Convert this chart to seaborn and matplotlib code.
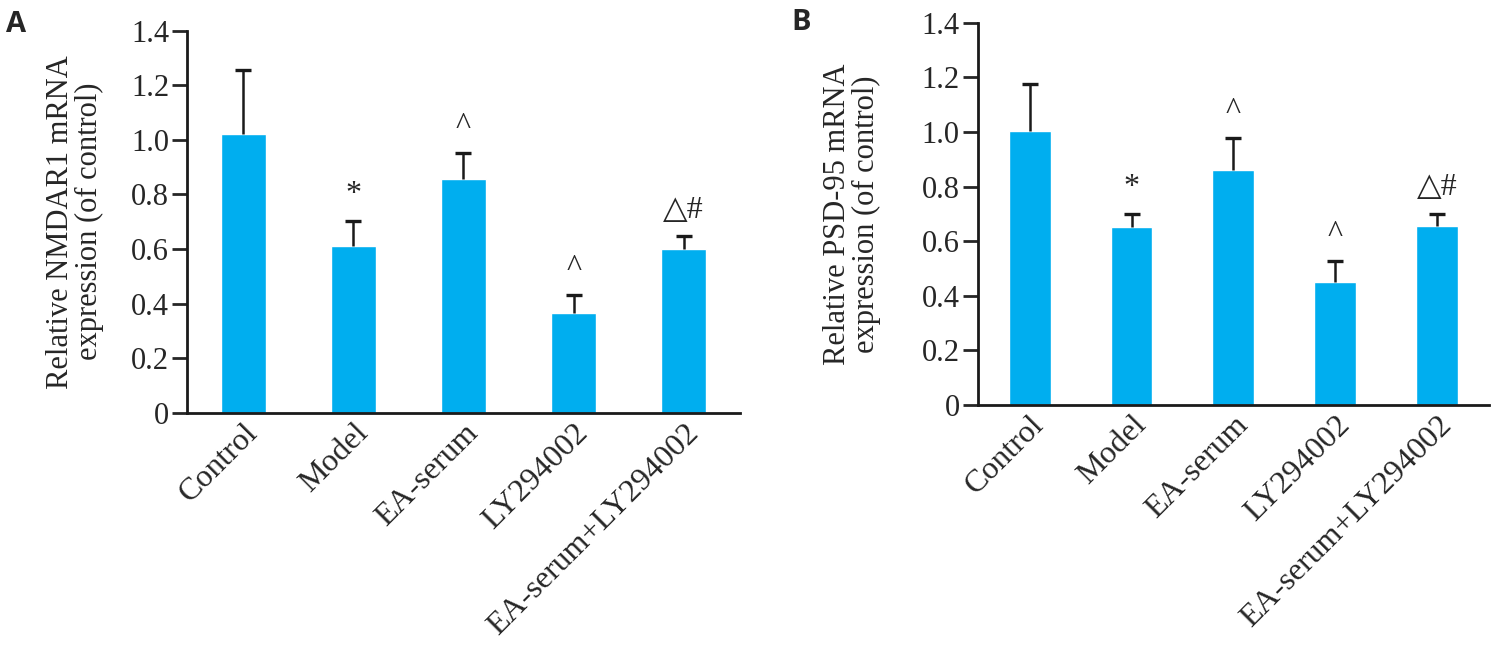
import numpy as np
import pandas as pd
import matplotlib
matplotlib.use('Agg')
import matplotlib.pyplot as plt
import seaborn as sns

### ------------------- data ----------------------
groups = ['Control', 'Model', 'EA-serum', 'LY294002', 'EA-serum+LY294002']
nmdar1_mean = [1.02, 0.61, 0.855, 0.365, 0.60]
nmdar1_sd = [0.237, 0.092, 0.097, 0.067, 0.046]
psd95_mean = [1.005, 0.65, 0.86, 0.45, 0.655]
psd95_sd = [0.17, 0.048, 0.118, 0.077, 0.043]
sig_marks = ['', '*', '^', '^', '△#']
yticks = [0, 0.2, 0.4, 0.6, 0.8, 1.0, 1.2, 1.4]
ytick_labels = ['0', '0.2', '0.4', '0.6', '0.8', '1.0', '1.2', '1.4']

sns.set_style('ticks')
plt.rcParams['font.family'] = ['Liberation Serif', 'DejaVu Serif']

bar_color = '#00AEEF'

fig = plt.figure(figsize=(15.11, 6.48), dpi=100)

def draw_panel(rect, means, sds, ylabel, letter, letter_xy, label_x):
    ax = fig.add_axes(rect)
    df = pd.DataFrame({'group': groups, 'value': means})
    sns.barplot(data=df, x='group', y='value', color=bar_color, saturation=1,
                width=0.41, errorbar=None, ax=ax)
    # upper error bars only
    _, caps, _ = ax.errorbar(np.arange(len(groups)), means,
                             yerr=[np.zeros(len(sds)), sds],
                             fmt='none', ecolor='#1a1a1a', elinewidth=1.8,
                             capsize=5.5, capthick=2.4, zorder=3)
    caps[0].set_visible(False)
    for i, m in enumerate(sig_marks):
        if m:
            ax.annotate(m, (i, means[i] + sds[i]), xytext=(0, 19),
                        textcoords='offset points', ha='center', va='center',
                        fontsize=23, family=['Liberation Serif', 'DejaVu Sans'])
    ax.set_xlim(-0.51, 4.51)
    ax.set_ylim(0, 1.4)
    ax.set_yticks(yticks)
    ax.set_yticklabels(ytick_labels)
    ax.tick_params(axis='y', length=11, width=2, labelsize=22, pad=2)
    ax.tick_params(axis='x', length=0, labelsize=23, pad=4)
    plt.setp(ax.get_xticklabels(), rotation=45, ha='right', va='top',
             rotation_mode='anchor')
    for s in ['top', 'right']:
        ax.spines[s].set_visible(False)
    for s in ['left', 'bottom']:
        ax.spines[s].set_linewidth(2)
        ax.spines[s].set_color('#1a1a1a')
    ax.set_xlabel('')
    ax.set_ylabel(ylabel, fontsize=22, linespacing=1.0)
    ax.yaxis.set_label_coords(label_x, 0.5)
    fig.text(letter_xy[0], letter_xy[1], letter, fontsize=21, fontweight='bold',
             family=['Open Sans', 'DejaVu Sans'], ha='left', va='top')
    return ax

ax1 = draw_panel([0.1238, 0.3627, 0.3659, 0.5902], nmdar1_mean, nmdar1_sd,
                 'Relative NMDAR1 mRNA\nexpression (of control)', 'A',
                 (0.004, 0.985), -0.15)
ax2 = draw_panel([0.6471, 0.375, 0.3383, 0.590], psd95_mean, psd95_sd,
                 'Relative PSD-95 mRNA\nexpression (of control)', 'B',
                 (0.524, 0.988), -0.19)

plt.savefig('out.png', dpi=100)
